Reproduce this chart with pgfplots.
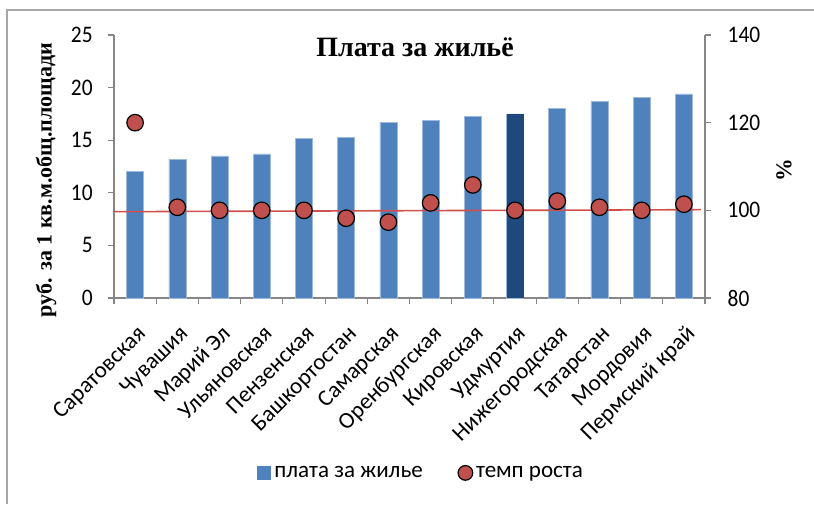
\documentclass[border=0pt]{standalone}
\usepackage{pgfplots}
\pgfplotsset{compat=1.18}
\usepackage{fontspec}
\setmainfont{Carlito}[FakeStretch=0.9]
\newfontfamily\calu{Carlito}
\newfontfamily\tnr{Liberation Serif}
\definecolor{barblue}{HTML}{4F81BD}
\definecolor{bardark}{HTML}{1F497D}
\definecolor{baredge}{HTML}{9DB9DC}
\definecolor{dotred}{HTML}{C0504D}
\definecolor{linered}{HTML}{D0504D}
\definecolor{axgray}{HTML}{868686}
\definecolor{framegray}{HTML}{A6A6A6}
\begin{document}
\begin{tikzpicture}
\path[use as bounding box] (0,0) rectangle (610.5pt,378pt);
\draw[framegray, line width=0.9pt] (5.25pt,0) -- (5.25pt,370.5pt) -- (610.5pt,370.5pt);
\pgfplotsset{
  common/.style={
    at={(85.5pt,154.5pt)}, anchor=south west,
    scale only axis, width=443.25pt, height=197.25pt,
    xmin=-0.5, xmax=13.5,
    /pgf/number format/assume math mode=true,
    yticklabel style={font=\fontsize{17.8}{20}\selectfont},
    xticklabel style={font=\calu\fontsize{17.3}{20}\selectfont},
    every tick/.style={axgray, line width=0.8pt},
    axis line style={axgray, line width=0.8pt},
    tick align=outside,
    major tick length=4.5pt,
  }
}
\begin{axis}[common,
  axis x line*=bottom, axis y line*=left,
  ymin=0, ymax=25, ytick={0,5,10,15,20,25},
  yticklabel style={xshift=-8pt},
  xtick={0,...,13},
  major x tick style={draw=none},
  minor xtick={-0.5,0.5,...,13.5},
  minor tick length=4.5pt,
  minor x tick style={axgray, line width=0.8pt},
  xticklabels={Саратовская,Чувашия,Марий Эл,Ульяновская,Пензенская,Башкортостан,Самарская,Оренбургская,Кировская,Удмуртия,Нижегородская,Татарстан,Мордовия,Пермский край},
  xticklabel style={rotate=45, anchor=north east, inner sep=1pt, yshift=-10pt, xshift=-9pt},
  ybar, bar width=12.75pt, bar shift=0pt,
  legend columns=2,
  legend style={draw=none, at={(0.52,-0.665)}, anchor=center, font=\calu\fontsize{17.3}{20}\selectfont,
    /tikz/every even column/.append style={column sep=24pt}},
  legend cell align=left,
]
\addplot[fill=barblue, draw=baredge, line width=0.4pt,
  legend image code/.code={\fill[barblue] (0pt,-4.8pt) rectangle (9.6pt,4.8pt);}]
  coordinates {(0,12.0) (1,13.2) (2,13.5) (3,13.7) (4,15.2) (5,15.3) (6,16.7) (7,16.9) (8,17.3) (9,17.5) (10,18.0) (11,18.7) (12,19.1) (13,19.4)};
\addlegendentry{\hspace{1pt}плата за жилье}
\addlegendimage{legend image code/.code={\draw[fill=dotred, draw=black, line width=0.9pt] (5.5pt,0pt) circle (5.5pt);}}
\addlegendentry{темп роста}
\addplot[fill=bardark, draw=none, forget plot] coordinates {(9,17.5)};
\end{axis}
\begin{axis}[common,
  axis x line=none, axis y line*=right,
  ymin=80, ymax=140, ytick={80,100,120,140},
  yticklabel style={xshift=9pt},
]
\addplot[linered, line width=1.2pt] coordinates {(-0.5,99.69) (13.4,100.15)};
\addplot[only marks, mark=*, mark size=6.2pt, mark options={fill=dotred, draw=black, line width=0.9pt}]
  coordinates {(0,120.0) (1,100.7) (2,100.0) (3,100.0) (4,100.0) (5,98.2) (6,97.3) (7,101.7) (8,105.8) (9,100.0) (10,102.1) (11,100.7) (12,100.0) (13,101.4)};
\end{axis}
\node[font=\tnr\bfseries\fontsize{21}{24}\selectfont] at (311.25pt,342.75pt) {Плата за жильё};
\node[rotate=90, font=\tnr\bfseries\fontsize{16.5}{19}\selectfont] at (34.5pt,243pt) {руб. за 1 кв.м.общ.площади};
\node[rotate=90, font=\tnr\bfseries\fontsize{17}{19}\selectfont] at (588pt,250.5pt) {\%};
\end{tikzpicture}
\end{document}
